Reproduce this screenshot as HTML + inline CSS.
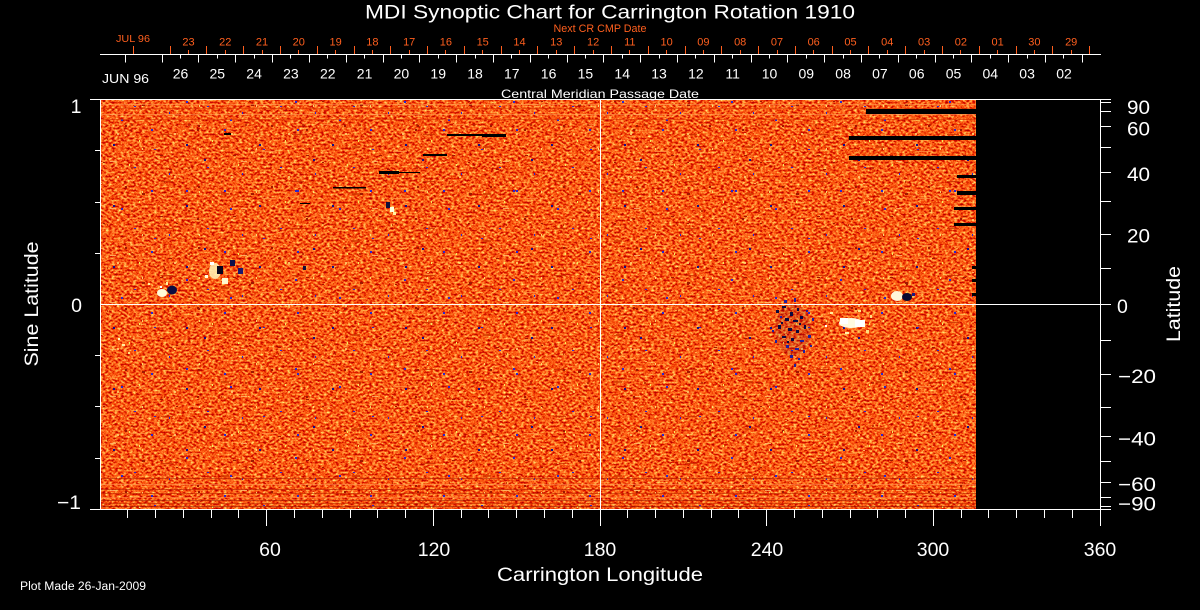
<!DOCTYPE html>
<html><head><meta charset="utf-8">
<style>
html,body{margin:0;padding:0;background:#000;width:1200px;height:610px;overflow:hidden}
svg{display:block}
</style></head>
<body>
<svg width="1200" height="610" viewBox="0 0 1200 610" xmlns="http://www.w3.org/2000/svg" font-family="'Liberation Sans', sans-serif">
<defs>
  <filter id="tex" x="0" y="0" width="1" height="1" filterUnits="objectBoundingBox" color-interpolation-filters="sRGB">
    <feTurbulence type="fractalNoise" baseFrequency="0.33 0.5" numOctaves="2" seed="7"/>
    <feColorMatrix type="matrix" values="1.0 0 0 0 0.5  1.7 0 0 0 -0.5  1.1 0 0 0 -0.48  0 0 0 0 1"/>
  </filter>
  <pattern id="p1" patternUnits="userSpaceOnUse" width="73" height="61">
    <rect x="5" y="7" width="2" height="2" fill="#2828d0"/>
    <rect x="40" y="22" width="2" height="2" fill="#10108a"/>
    <rect x="61" y="45" width="2" height="1" fill="#2828d0"/>
    <rect x="23" y="51" width="1" height="2" fill="#2828d0"/>
    <rect x="52" y="3" width="2" height="2" fill="#a01800"/>
    <rect x="14" y="33" width="3" height="1" fill="#a01800"/>
    <rect x="66" y="18" width="1" height="2" fill="#f0f060"/>
    <rect x="30" y="40" width="2" height="1" fill="#a01800"/>
  </pattern>
  <pattern id="p2" patternUnits="userSpaceOnUse" width="109" height="89">
    <rect x="12" y="30" width="2" height="2" fill="#2828d0"/>
    <rect x="77" y="12" width="2" height="2" fill="#2828d0"/>
    <rect x="95" y="70" width="2" height="2" fill="#10108a"/>
    <rect x="45" y="60" width="2" height="1" fill="#2828d0"/>
    <rect x="60" y="80" width="3" height="1" fill="#a01800"/>
    <rect x="88" y="40" width="2" height="2" fill="#a01800"/>
    <rect x="20" y="75" width="1" height="2" fill="#f0f060"/>
    <rect x="100" y="5" width="2" height="1" fill="#ffb060"/>
    <rect x="33" y="15" width="3" height="2" fill="#a01800"/>
  </pattern>
  <pattern id="p3" patternUnits="userSpaceOnUse" width="131" height="47">
    <rect x="0" y="10" width="14" height="1" fill="#ff9040"/>
    <rect x="60" y="30" width="10" height="1" fill="#ff8a3a"/>
    <rect x="90" y="5" width="8" height="2" fill="#d23a00"/>
    <rect x="30" y="40" width="12" height="1" fill="#c83000"/>
    <rect x="110" y="20" width="6" height="1" fill="#ffc070"/>
  </pattern>
  <pattern id="p4" patternUnits="userSpaceOnUse" width="57" height="43">
    <rect x="3" y="4" width="2" height="2" fill="#ffd070"/>
    <rect x="28" y="19" width="1" height="2" fill="#f8f080"/>
    <rect x="44" y="33" width="2" height="1" fill="#ffb050"/>
    <rect x="17" y="38" width="2" height="2" fill="#b82400"/>
    <rect x="50" y="9" width="1" height="2" fill="#b82400"/>
  </pattern>
</defs>

<rect width="1200" height="610" fill="#000"/>

<!-- data map -->
<rect x="101" y="100" width="875" height="409" fill="#f85a14"/>
<rect x="101" y="100" width="875" height="409" filter="url(#tex)"/>
<rect x="101" y="100" width="875" height="409" fill="url(#p3)" opacity="0.8"/>
<rect x="101" y="100" width="875" height="409" fill="url(#p4)" opacity="0.85"/>
<rect x="101" y="100" width="875" height="409" fill="url(#p1)"/>
<rect x="101" y="100" width="875" height="409" fill="url(#p2)"/>

<!-- bottom/top streaks -->
<g opacity="0.6">
  <rect x="101" y="478" width="875" height="1" fill="#b01e00"/>
  <rect x="101" y="484" width="875" height="1" fill="#ff9050"/>
  <rect x="101" y="489" width="875" height="1" fill="#b01e00"/>
  <rect x="101" y="493" width="875" height="1" fill="#c02800"/>
  <rect x="101" y="497" width="875" height="1" fill="#ff8040"/>
  <rect x="101" y="500" width="875" height="1" fill="#a01800"/>
  <rect x="101" y="503" width="875" height="1" fill="#c02800"/>
  <rect x="101" y="506" width="875" height="1" fill="#901400"/>
  <rect x="101" y="104" width="875" height="1" fill="#ff9a50"/>
  <rect x="101" y="108" width="875" height="1" fill="#d83800"/>
  <rect x="101" y="114" width="875" height="1" fill="#ff9a50"/>
  <rect x="101" y="119" width="875" height="1" fill="#d83800"/>
</g>

<!-- sunspot group A -->
<ellipse cx="162" cy="293" rx="5" ry="4" fill="#fffbd8"/>
<ellipse cx="172" cy="290" rx="5" ry="4.5" fill="#0c0c40"/>
<rect x="166" y="282" width="2" height="3" fill="#fff0a0"/>
<rect x="160" y="286" width="2" height="2" fill="#ffffff"/>
<rect x="148" y="283" width="2" height="2" fill="#fff0a0"/>
<!-- group B -->
<ellipse cx="215" cy="271" rx="6" ry="8" fill="#ffeeb0" opacity="0.9"/>
<rect x="217" y="266" width="6" height="8" fill="#05051e"/>
<rect x="210" y="262" width="4" height="3" fill="#ffffff"/>
<rect x="222" y="278" width="6" height="6" fill="#fff8d0"/>
<rect x="230" y="260" width="5" height="6" fill="#10104a"/>
<rect x="238" y="268" width="5" height="6" fill="#1a1a70"/>
<rect x="205" y="275" width="3" height="3" fill="#ffffe0"/>
<!-- group C -->
<rect x="386" y="202" width="4" height="6" fill="#10103a"/>
<rect x="390" y="207" width="4" height="5" fill="#ffffe0"/>
<rect x="393" y="212" width="3" height="3" fill="#fff0a0"/>
<rect x="303" y="266" width="3" height="4" fill="#10103a"/>
<!-- group D -->
<ellipse cx="897" cy="296" rx="6" ry="5" fill="#fff6d8"/>
<ellipse cx="907" cy="297" rx="5" ry="4" fill="#0a0a30"/>
<rect x="912" y="293" width="3" height="3" fill="#1a1a80"/>
<!-- dark network E -->
<ellipse cx="793" cy="330" rx="18" ry="26" fill="#601030" opacity="0.15"/>
<g fill="#0a0a40">
  <rect x="776" y="310" width="3" height="3"/><rect x="782" y="306" width="4" height="2"/>
  <rect x="790" y="312" width="3" height="4"/><rect x="797" y="308" width="2" height="3"/>
  <rect x="785" y="318" width="4" height="3"/><rect x="793" y="320" width="5" height="2"/>
  <rect x="800" y="316" width="3" height="3"/><rect x="778" y="325" width="3" height="4"/>
  <rect x="788" y="328" width="4" height="3"/><rect x="796" y="330" width="3" height="3"/>
  <rect x="804" y="325" width="2" height="4"/><rect x="782" y="336" width="4" height="2"/>
  <rect x="791" y="338" width="3" height="3"/><rect x="781" y="322" width="2" height="2"/>
  <rect x="799" y="323" width="2" height="2"/><rect x="787" y="341" width="2" height="2"/>
</g>
<g fill="#2020a0">
  <rect x="800" y="340" width="4" height="2"/><rect x="808" y="335" width="3" height="3"/>
  <rect x="786" y="345" width="3" height="3"/><rect x="795" y="348" width="4" height="2"/>
  <rect x="803" y="350" width="2" height="3"/><rect x="790" y="355" width="3" height="3"/>
  <rect x="798" y="358" width="2" height="2"/><rect x="775" y="340" width="2" height="3"/>
  <rect x="810" y="345" width="2" height="2"/><rect x="784" y="300" width="3" height="3"/>
  <rect x="794" y="298" width="2" height="4"/><rect x="812" y="318" width="2" height="3"/>
  <rect x="780" y="316" width="2" height="2"/><rect x="806" y="310" width="2" height="2"/>
  <rect x="772" y="330" width="2" height="2"/><rect x="794" y="364" width="2" height="3"/>
</g>
<!-- white patch F -->
<ellipse cx="851" cy="323" rx="12" ry="5" fill="#fffbe0"/>
<rect x="840" y="318" width="8" height="6" fill="#ffffff"/>
<rect x="855" y="320" width="10" height="7" fill="#ffffff"/>
<rect x="830" y="312" width="3" height="2" fill="#fff0a0"/>
<rect x="866" y="330" width="3" height="3" fill="#ffe080"/>
<rect x="825" y="325" width="2" height="2" fill="#ffffff"/>
<rect x="870" y="315" width="2" height="3" fill="#ffe080"/>
<rect x="845" y="332" width="4" height="2" fill="#fff3b0"/>
<rect x="858" y="310" width="3" height="2" fill="#ffe890"/>
<!-- faint bright specks left -->
<rect x="122" y="344" width="3" height="2" fill="#fff0a0"/>
<rect x="128" y="352" width="2" height="2" fill="#ffe080"/>
<rect x="118" y="338" width="2" height="2" fill="#fff8c0"/>

<!-- data gaps -->
<g fill="#000">
  <rect x="866" y="109" width="110" height="5"/>
  <rect x="849" y="136" width="127" height="4"/>
  <rect x="849" y="156" width="127" height="4"/>
  <rect x="957" y="175" width="19" height="3"/>
  <rect x="957" y="191" width="19" height="4"/>
  <rect x="954" y="207" width="22" height="3"/>
  <rect x="954" y="223" width="22" height="3"/>
  <rect x="972" y="266" width="4" height="3"/>
  <rect x="972" y="279" width="4" height="3"/>
  <rect x="972" y="293" width="4" height="3"/>
  <rect x="224" y="133" width="7" height="2"/>
  <rect x="447" y="134" width="59" height="2"/>
  <rect x="482" y="134" width="24" height="3"/>
  <rect x="423" y="154" width="24" height="2"/>
  <rect x="379" y="171" width="20" height="3"/>
  <rect x="399" y="172" width="21" height="1"/>
  <rect x="333" y="187" width="33" height="1.5"/>
  <rect x="300" y="203" width="10" height="1"/>
</g>

<!-- axes -->
<g stroke="#fff" stroke-width="1" shape-rendering="crispEdges" fill="none">
  <line x1="90" y1="99.5" x2="1111" y2="99.5"/>
  <line x1="90" y1="509.5" x2="1111" y2="509.5"/>
  <line x1="100.5" y1="99.5" x2="100.5" y2="509.5"/>
  <line x1="1100.5" y1="99.5" x2="1100.5" y2="526"/>
  <line x1="600.5" y1="99.5" x2="600.5" y2="526"/>
  <line x1="100" y1="304.5" x2="1111" y2="304.5"/>
  <line x1="95" y1="150.5" x2="100" y2="150.5"/>
  <line x1="95" y1="202.5" x2="100" y2="202.5"/>
  <line x1="95" y1="253.5" x2="100" y2="253.5"/>
  <line x1="95" y1="355.5" x2="100" y2="355.5"/>
  <line x1="95" y1="406.5" x2="100" y2="406.5"/>
  <line x1="95" y1="458.5" x2="100" y2="458.5"/>
  <line x1="1100" y1="102.5" x2="1111" y2="102.5"/>
  <line x1="1100" y1="111.5" x2="1111" y2="111.5"/>
  <line x1="1100" y1="126.5" x2="1111" y2="126.5"/>
  <line x1="1100" y1="147.5" x2="1111" y2="147.5"/>
  <line x1="1100" y1="172.5" x2="1111" y2="172.5"/>
  <line x1="1100" y1="201.5" x2="1111" y2="201.5"/>
  <line x1="1100" y1="234.5" x2="1111" y2="234.5"/>
  <line x1="1100" y1="268.5" x2="1111" y2="268.5"/>
  <line x1="1100" y1="340.5" x2="1111" y2="340.5"/>
  <line x1="1100" y1="374.5" x2="1111" y2="374.5"/>
  <line x1="1100" y1="407.5" x2="1111" y2="407.5"/>
  <line x1="1100" y1="436.5" x2="1111" y2="436.5"/>
  <line x1="1100" y1="461.5" x2="1111" y2="461.5"/>
  <line x1="1100" y1="482.5" x2="1111" y2="482.5"/>
  <line x1="1100" y1="497.5" x2="1111" y2="497.5"/>
  <line x1="1100" y1="506.5" x2="1111" y2="506.5"/>
  <path d="M127.5 509V518M155.5 509V518M183.5 509V518M211.5 509V518M238.5 509V518M266.5 509V526M294.5 509V518M322.5 509V518M350.5 509V518M377.5 509V518M405.5 509V518M433.5 509V526M461.5 509V518M488.5 509V518M516.5 509V518M544.5 509V518M572.5 509V518M627.5 509V518M655.5 509V518M683.5 509V518M711.5 509V518M738.5 509V518M766.5 509V526M794.5 509V518M822.5 509V518M850.5 509V518M877.5 509V518M905.5 509V518M933.5 509V526M961.5 509V518M988.5 509V518M1016.5 509V518M1044.5 509V518M1072.5 509V518"/>
  <line x1="100" y1="54.5" x2="1101" y2="54.5"/>
  <path d="M125.5 54V62.5M162.5 54V62.5M198.5 54V62.5M235.5 54V62.5M272.5 54V62.5M309.5 54V62.5M346.5 54V62.5M383.5 54V62.5M419.5 54V62.5M456.5 54V62.5M493.5 54V62.5M530.5 54V62.5M567.5 54V62.5M603.5 54V62.5M640.5 54V62.5M677.5 54V62.5M714.5 54V62.5M751.5 54V62.5M787.5 54V62.5M824.5 54V62.5M861.5 54V62.5M898.5 54V62.5M935.5 54V62.5M971.5 54V62.5M1008.5 54V62.5M1045.5 54V62.5M1082.5 54V62.5"/>
  <path d="M180.5 54V58.5M217.5 54V58.5M254.5 54V58.5M290.5 54V58.5M327.5 54V58.5M364.5 54V58.5M401.5 54V58.5M438.5 54V58.5M475.5 54V58.5M511.5 54V58.5M548.5 54V58.5M585.5 54V58.5M622.5 54V58.5M659.5 54V58.5M695.5 54V58.5M732.5 54V58.5M769.5 54V58.5M806.5 54V58.5M843.5 54V58.5M879.5 54V58.5M916.5 54V58.5M953.5 54V58.5M990.5 54V58.5M1027.5 54V58.5M1063.5 54V58.5"/>
</g>
<g stroke="#ff5f1e" stroke-width="1" shape-rendering="crispEdges" fill="none">
  <path d="M133.5 54V46M170.5 54V46M206.5 54V46M243.5 54V46M280.5 54V46M317.5 54V46M354.5 54V46M390.5 54V46M427.5 54V46M464.5 54V46M501.5 54V46M537.5 54V46M574.5 54V46M611.5 54V46M648.5 54V46M685.5 54V46M721.5 54V46M758.5 54V46M795.5 54V46M832.5 54V46M868.5 54V46M905.5 54V46M942.5 54V46M979.5 54V46M1016.5 54V46M1052.5 54V46M1089.5 54V46"/>
  <path d="M188.5 54V50M225.5 54V50M262.5 54V50M298.5 54V50M335.5 54V50M372.5 54V50M409.5 54V50M445.5 54V50M482.5 54V50M519.5 54V50M556.5 54V50M593.5 54V50M629.5 54V50M666.5 54V50M703.5 54V50M740.5 54V50M777.5 54V50M813.5 54V50M850.5 54V50M887.5 54V50M924.5 54V50M960.5 54V50M997.5 54V50M1034.5 54V50M1071.5 54V50"/>
</g>

<!-- texts -->
<g fill="#fff">
  <text x="365" y="18.5" font-size="19.5" textLength="490" lengthAdjust="spacingAndGlyphs">MDI Synoptic Chart for Carrington Rotation 1910</text>
  <text x="600" y="98" font-size="12" text-anchor="middle" textLength="198" lengthAdjust="spacingAndGlyphs">Central Meridian Passage Date</text>
  <text x="102" y="83" font-size="13" textLength="47" lengthAdjust="spacingAndGlyphs">JUN 96</text>
  <g font-size="14" text-anchor="middle">
    <text x="180.5" y="78.3">26</text><text x="217.3" y="78.3">25</text><text x="254.1" y="78.3">24</text>
    <text x="290.9" y="78.3">23</text><text x="327.8" y="78.3">22</text><text x="364.6" y="78.3">21</text>
    <text x="401.4" y="78.3">20</text><text x="438.2" y="78.3">19</text><text x="475" y="78.3">18</text>
    <text x="511.8" y="78.3">17</text><text x="548.6" y="78.3">16</text><text x="585.4" y="78.3">15</text>
    <text x="622.2" y="78.3">14</text><text x="659" y="78.3">13</text><text x="695.9" y="78.3">12</text>
    <text x="732.7" y="78.3">11</text><text x="769.5" y="78.3">10</text><text x="806.3" y="78.3">09</text>
    <text x="843.1" y="78.3">08</text><text x="879.9" y="78.3">07</text><text x="916.7" y="78.3">06</text>
    <text x="953.5" y="78.3">05</text><text x="990.3" y="78.3">04</text><text x="1027.1" y="78.3">03</text>
    <text x="1064" y="78.3">02</text>
  </g>
  <g font-size="19.5">
    <text x="81.5" y="113" text-anchor="end">1</text>
    <text x="82" y="312" text-anchor="end">0</text>
    <text x="57" y="509" textLength="24" lengthAdjust="spacingAndGlyphs">−1</text>
  </g>
  <g font-size="19.5">
    <text x="1127" y="114" textLength="23" lengthAdjust="spacingAndGlyphs">90</text>
    <text x="1127" y="135.5" textLength="23" lengthAdjust="spacingAndGlyphs">60</text>
    <text x="1127" y="181" textLength="23" lengthAdjust="spacingAndGlyphs">40</text>
    <text x="1127" y="242.5" textLength="23" lengthAdjust="spacingAndGlyphs">20</text>
    <text x="1117" y="313">0</text>
    <text x="1118" y="383" textLength="38" lengthAdjust="spacingAndGlyphs">−20</text>
    <text x="1118" y="445.5" textLength="38" lengthAdjust="spacingAndGlyphs">−40</text>
    <text x="1118" y="491" textLength="38" lengthAdjust="spacingAndGlyphs">−60</text>
    <text x="1118" y="510.5" textLength="38" lengthAdjust="spacingAndGlyphs">−90</text>
  </g>
  <g font-size="19.5" text-anchor="middle">
    <text x="270" y="556">60</text>
    <text x="434" y="556">120</text>
    <text x="600" y="556">180</text>
    <text x="767" y="556">240</text>
    <text x="933" y="556">300</text>
    <text x="1100" y="556">360</text>
  </g>
  <text x="600" y="581" font-size="19.5" text-anchor="middle" textLength="206" lengthAdjust="spacingAndGlyphs">Carrington Longitude</text>
  <text x="20" y="590" font-size="11.5" textLength="126" lengthAdjust="spacingAndGlyphs">Plot Made 26-Jan-2009</text>
  <text transform="translate(38,304) rotate(-90)" font-size="19.5" text-anchor="middle" textLength="125" lengthAdjust="spacingAndGlyphs">Sine Latitude</text>
  <text transform="translate(1180,304) rotate(-90)" font-size="19.5" text-anchor="middle" textLength="76" lengthAdjust="spacingAndGlyphs">Latitude</text>
</g>
<g fill="#ff5f1e">
  <text x="600" y="32" font-size="11" text-anchor="middle" textLength="93" lengthAdjust="spacingAndGlyphs">Next CR CMP Date</text>
  <text x="116" y="42" font-size="10.5" textLength="34" lengthAdjust="spacingAndGlyphs">JUL 96</text>
  <g font-size="11" text-anchor="middle">
    <text x="188.5" y="45.5">23</text><text x="225.3" y="45.5">22</text><text x="262" y="45.5">21</text>
    <text x="298.8" y="45.5">20</text><text x="335.6" y="45.5">19</text><text x="372.4" y="45.5">18</text>
    <text x="409.2" y="45.5">17</text><text x="445.9" y="45.5">16</text><text x="482.7" y="45.5">15</text>
    <text x="519.5" y="45.5">14</text><text x="556.3" y="45.5">13</text><text x="593.1" y="45.5">12</text>
    <text x="629.8" y="45.5">11</text><text x="666.6" y="45.5">10</text><text x="703.4" y="45.5">09</text>
    <text x="740.2" y="45.5">08</text><text x="777" y="45.5">07</text><text x="813.7" y="45.5">06</text>
    <text x="850.5" y="45.5">05</text><text x="887.3" y="45.5">04</text><text x="924.1" y="45.5">03</text>
    <text x="960.9" y="45.5">02</text><text x="997.6" y="45.5">01</text><text x="1034.4" y="45.5">30</text>
    <text x="1071.2" y="45.5">29</text>
  </g>
</g>
</svg>
</body></html>
